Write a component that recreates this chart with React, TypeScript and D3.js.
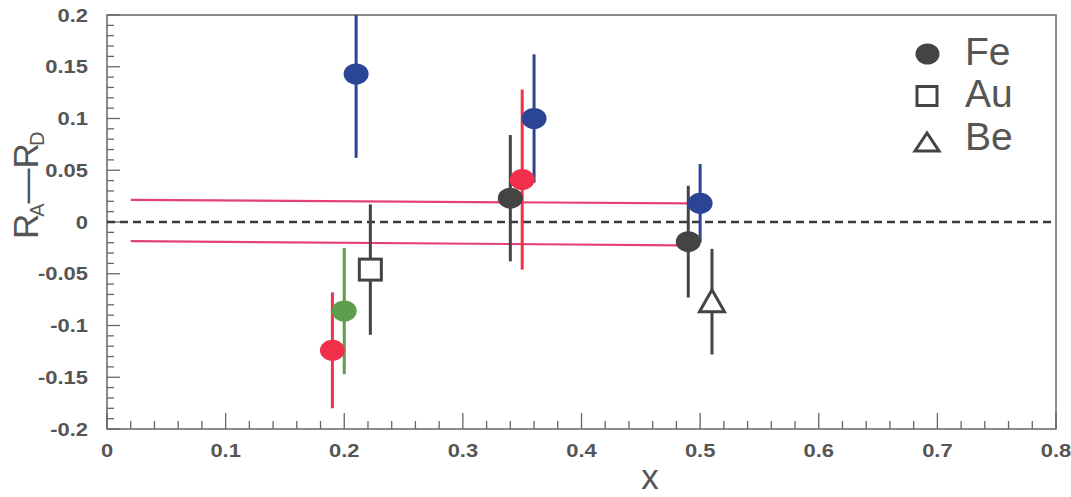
import React from "react";
import * as d3 from "d3";

const W = 1071, H = 497;
const margin = { left: 107, top: 15, right: 1056, bottom: 429 };

const xTicks = [0, 0.1, 0.2, 0.3, 0.4, 0.5, 0.6, 0.7, 0.8];
const xTickLabels = ["0", "0.1", "0.2", "0.3", "0.4", "0.5", "0.6", "0.7", "0.8"];
const yTicks = [0.2, 0.15, 0.1, 0.05, 0, -0.05, -0.1, -0.15, -0.2];
const yTickLabels = ["0.2", "0.15", "0.1", "0.05", "0", "-0.05", "-0.1", "-0.15", "-0.2"];

// points: x, y, error, color, shape
const pointX = [0.21, 0.36, 0.35, 0.34, 0.5, 0.49, 0.51, 0.222, 0.19, 0.2];
const pointY = [0.143, 0.1, 0.041, 0.023, 0.018, -0.019, -0.077, -0.046, -0.124, -0.086];
const pointErr = [0.081, 0.062, 0.087, 0.061, 0.038, 0.054, 0.051, 0.063, 0.056, 0.061];
const pointColor = ["#2b4596", "#2b4596", "#f2304c", "#444444", "#2b4596", "#444444", "#444444", "#444444", "#f2304c", "#5c9e4c"];
const pointShape = ["circle", "circle", "circle", "circle", "circle", "circle", "triangle", "square", "circle", "circle"];

// systematic band lines: [x1, y1, x2, y2]
const bandUpper = [0.02, 0.0213, 0.49, 0.018];
const bandLower = [0.02, -0.0185, 0.482, -0.0225];

const legendLabels = ["Fe", "Au", "Be"];
const legendShapes = ["circle", "square", "triangle"];

export default function App() {
  const x = d3.scaleLinear().domain([0, 0.8]).range([margin.left, margin.right]);
  const y = d3.scaleLinear().domain([-0.2, 0.2]).range([margin.bottom, margin.top]);
  const textColor = "#555555";
  const axisColor = "#666666";
  const xMinor = d3.range(0, 0.8001, 0.02);
  const yMinor = d3.range(-0.2, 0.2001, 0.01);

  const marker = (shape: string, cx: number, cy: number, color: string, key?: any) => {
    if (shape === "circle")
      return <ellipse key={key} cx={cx} cy={cy} rx={12.5} ry={10.5} fill={color} />;
    if (shape === "square")
      return <rect key={key} x={cx - 11} y={cy - 10.5} width={22} height={21} fill="#fff" stroke={color} strokeWidth={3} />;
    return (
      <polygon key={key} points={`${cx},${cy - 12} ${cx - 12.5},${cy + 10} ${cx + 12.5},${cy + 10}`}
        fill="#fff" stroke={color} strokeWidth={3} />
    );
  };

  const font = "Liberation Sans, Arial, Helvetica, sans-serif";
  const sx = 1.22;

  return (
    <svg width={W} height={H} style={{ position: "absolute", left: 0, top: 0, background: "#fff" }}>
      <rect width={W} height={H} fill="#fff" />
      <defs>
        <clipPath id="plot">
          <rect x={margin.left} y={margin.top} width={margin.right - margin.left} height={margin.bottom - margin.top} />
        </clipPath>
      </defs>
      {/* frame */}
      <rect x={margin.left} y={margin.top} width={margin.right - margin.left} height={margin.bottom - margin.top}
        fill="none" stroke={axisColor} strokeWidth={1.5} />
      {/* ticks */}
      {xMinor.map((v, i) => {
        const major = i % 5 === 0;
        return <line key={"xm" + i} x1={x(v)} x2={x(v)} y1={margin.bottom} y2={margin.bottom - (major ? 16 : 8)} stroke={axisColor} strokeWidth={1.3} />;
      })}
      {yMinor.map((v, i) => {
        const major = i % 5 === 0;
        return <line key={"ym" + i} y1={y(v)} y2={y(v)} x1={margin.left} x2={margin.left + (major ? 13 : 7)} stroke={axisColor} strokeWidth={1.3} />;
      })}
      {xTicks.map((v, i) => (
        <text key={"xl" + i} transform={`translate(${x(v)},457) scale(${sx},1)`} textAnchor="middle" fontFamily={font} fontWeight="bold" fontSize={18} fill={textColor}>
          {xTickLabels[i]}
        </text>
      ))}
      {yTicks.map((v, i) => (
        <text key={"yl" + i} transform={`translate(88,${y(v) + 6.5}) scale(${sx},1)`} textAnchor="end" fontFamily={font} fontWeight="bold" fontSize={18} fill={textColor}>
          {yTickLabels[i]}
        </text>
      ))}
      {/* axis titles */}
      <text x={650} y={489} textAnchor="middle" fontFamily={font} fontSize={35} fill={textColor}>x</text>
      <text transform={`translate(38,239) rotate(-90)`} textAnchor="start" fontFamily={font} fontSize={35} fill={textColor}>
        R<tspan fontSize={20} dx={-3} dy={6}>A</tspan><tspan dx={0} dy={-6}>—</tspan><tspan dx={0}>R</tspan><tspan fontSize={20} dx={-3} dy={6}>D</tspan>
      </text>
      <g clipPath="url(#plot)">
        {/* zero dashed line */}
        <line x1={x(0)} x2={x(0.8)} y1={y(0)} y2={y(0)} stroke="#3a3a3a" strokeWidth={2.5} strokeDasharray="8,5" />
        {/* band lines */}
        {[bandUpper, bandLower].map((b, i) => (
          <line key={"b" + i} x1={x(b[0])} y1={y(b[1])} x2={x(b[2])} y2={y(b[3])} stroke="#e4407a" strokeWidth={2.2} />
        ))}
        {/* error bars */}
        {pointX.map((v, i) => (
          <line key={"e" + i} x1={x(v)} x2={x(v)} y1={y(pointY[i] + pointErr[i])} y2={y(pointY[i] - pointErr[i])}
            stroke={pointColor[i]} strokeWidth={3} />
        ))}
        {/* markers */}
        {pointX.map((v, i) => marker(pointShape[i], x(v), y(pointY[i]), pointColor[i], "p" + i))}
      </g>
      {/* legend */}
      {legendLabels.map((l, i) => {
        const cy = [54, 96, 142][i];
        const base = [65, 107, 150][i];
        return (
          <g key={"lg" + i}>
            {legendShapes[i] === "circle"
              ? <ellipse cx={927.5} cy={cy} rx={12} ry={10.5} fill="#444" />
              : legendShapes[i] === "square"
                ? <rect x={917} y={cy - 9.5} width={20} height={19} fill="#fff" stroke="#444" strokeWidth={3} />
                : <polygon points={`927,${cy - 9} 915,${cy + 9} 939,${cy + 9}`} fill="#fff" stroke="#444" strokeWidth={3} />}
            <text x={965} y={base} fontFamily={font} fontSize={39} fill={textColor}>{l}</text>
          </g>
        );
      })}
    </svg>
  );
}
